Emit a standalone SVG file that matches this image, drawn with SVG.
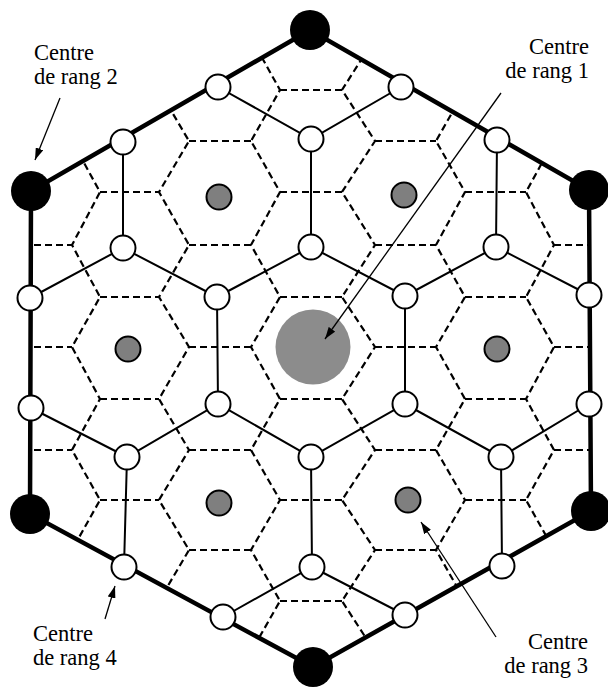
<svg xmlns="http://www.w3.org/2000/svg" width="608" height="688" viewBox="0 0 608 688">
<style>
.dash{fill:none;stroke:#000;stroke-width:2.2;stroke-dasharray:7 4}
.thin{fill:none;stroke:#000;stroke-width:2}
.thick{fill:none;stroke:#000;stroke-width:4.5;stroke-linejoin:miter}
.arrow{fill:none;stroke:#000;stroke-width:1.3;marker-end:url(#ah)}
.w{fill:#fff;stroke:#000;stroke-width:2}
.g{fill:#7f7f7f;stroke:#000;stroke-width:2}
.b{fill:#000}
.big{fill:#8c8c8c}
text{font-family:"Liberation Serif","Times New Roman",serif;font-size:22.5px;fill:#000}
</style>
<defs>
<clipPath id="hexclip"><polygon points="310,30 31,191 30,514 313,667 591,511 589,190"/></clipPath>
<marker id="ah" viewBox="0 0 12 8" markerWidth="12" markerHeight="8" refX="12" refY="4" orient="auto" markerUnits="userSpaceOnUse"><path d="M0,0 L12,4 L0,8 z" fill="#000"/></marker>
</defs>
<rect width="608" height="688" fill="#fff"/>
<g id="connectors">
<g id="dashed-network" clip-path="url(#hexclip)">
<path class="dash" d="M72,38 L100,90 L72,141 L100,192 L72,245 L100,297 L72,347 L100,399 L72,450 L100,500 L72,550 L100,601 L72,652
M189,38 L159,90 L189,141 L159,192 L189,245 L159,297 L189,347 L159,399 L189,450 L159,500 L189,550 L159,601 L189,652
M251,38 L280,90 L251,141 L280,192 L251,245 L280,297 L251,347 L280,399 L251,450 L280,500 L251,550 L280,601 L251,652
M375,38 L342,90 L375,141 L342,192 L375,245 L342,297 L375,347 L342,399 L375,450 L342,500 L375,550 L342,601 L375,652
M436,38 L465,90 L436,141 L465,192 L436,245 L465,297 L436,347 L465,399 L436,450 L465,500 L436,550 L465,601 L436,652
M554,38 L526,90 L554,141 L526,192 L554,245 L526,297 L554,347 L526,399 L554,450 L526,500 L554,550 L526,601 L554,652"/>
<path class="dash" d="M100,90 H159 M280,90 H342 M465,90 H526
M-10,141 H72 M189,141 H251 M375,141 H436 M554,141 H630
M100,192 H159 M280,192 H342 M465,192 H526
M-10,245 H72 M189,245 H251 M375,245 H436 M554,245 H630
M100,297 H159 M280,297 H342 M465,297 H526
M-10,347 H72 M189,347 H251 M375,347 H436 M554,347 H630
M100,399 H159 M280,399 H342 M465,399 H526
M-10,450 H72 M189,450 H251 M375,450 H436 M554,450 H630
M100,500 H159 M280,500 H342 M465,500 H526
M-10,550 H72 M189,550 H251 M375,550 H436 M554,550 H630
M100,601 H159 M280,601 H342 M465,601 H526"/>
</g>
<g id="solid-network">
<path class="thin" d="M218,87 L311,139 L401,87 M311,139 L311,247
M123,142 L123,248 M497,140 L496,247
M30,298 L123,248 L217,297 L311,247 L405,296 L496,247 L589,295
M217,297 L218,404 M405,296 L405,404
M31,408 L127,457 L218,404 L311,457 L405,404 L501,457 L589,404
M127,457 L124,567 M311,457 L312,567 M501,457 L502,566
M223,617 L312,567 L405,615"/>
</g>
<polygon id="boundary" class="thick" points="310,30 31,191 30,514 313,667 591,511 589,190"/>
</g>
<g id="center-rang1"><circle class="big" cx="313" cy="347" r="37.5"/></g>
<g id="centres-rang2">
<circle id="b1" class="b" cx="310" cy="30" r="20"/>
<circle id="b2" class="b" cx="31" cy="191" r="20"/>
<circle id="b3" class="b" cx="589" cy="190" r="20"/>
<circle id="b4" class="b" cx="30" cy="514" r="20"/>
<circle id="b5" class="b" cx="591" cy="511" r="20"/>
<circle id="b6" class="b" cx="313" cy="667" r="20"/>
</g>
<g id="centres-rang3">
<circle id="g1" class="g" cx="219" cy="197" r="12.5"/>
<circle id="g2" class="g" cx="404" cy="195" r="12.5"/>
<circle id="g3" class="g" cx="128" cy="349" r="12.5"/>
<circle id="g4" class="g" cx="497" cy="349" r="12.5"/>
<circle id="g5" class="g" cx="219" cy="503" r="12.5"/>
<circle id="g6" class="g" cx="408" cy="500" r="12.5"/>
</g>
<g id="centres-rang4">
<circle id="w1" class="w" cx="218" cy="87" r="12.5"/>
<circle id="w2" class="w" cx="401" cy="87" r="12.5"/>
<circle id="w3" class="w" cx="311" cy="139" r="12.5"/>
<circle id="w4" class="w" cx="123" cy="142" r="12.5"/>
<circle id="w5" class="w" cx="497" cy="140" r="12.5"/>
<circle id="w6" class="w" cx="123" cy="248" r="12.5"/>
<circle id="w7" class="w" cx="311" cy="247" r="12.5"/>
<circle id="w8" class="w" cx="496" cy="247" r="12.5"/>
<circle id="w9" class="w" cx="30" cy="298" r="12.5"/>
<circle id="w10" class="w" cx="217" cy="297" r="12.5"/>
<circle id="w11" class="w" cx="405" cy="296" r="12.5"/>
<circle id="w12" class="w" cx="589" cy="295" r="12.5"/>
<circle id="w13" class="w" cx="31" cy="408" r="12.5"/>
<circle id="w14" class="w" cx="218" cy="404" r="12.5"/>
<circle id="w15" class="w" cx="405" cy="404" r="12.5"/>
<circle id="w16" class="w" cx="589" cy="404" r="12.5"/>
<circle id="w17" class="w" cx="127" cy="457" r="12.5"/>
<circle id="w18" class="w" cx="311" cy="457" r="12.5"/>
<circle id="w19" class="w" cx="501" cy="457" r="12.5"/>
<circle id="w20" class="w" cx="124" cy="567" r="12.5"/>
<circle id="w21" class="w" cx="312" cy="567" r="12.5"/>
<circle id="w22" class="w" cx="502" cy="566" r="12.5"/>
<circle id="w23" class="w" cx="223" cy="617" r="12.5"/>
<circle id="w24" class="w" cx="405" cy="615" r="12.5"/>
</g>
<g id="arrows">
<line class="arrow" x1="60" y1="98" x2="35" y2="160"/>
<line class="arrow" x1="501" y1="93" x2="325" y2="339"/>
<line class="arrow" x1="105" y1="619" x2="115" y2="586"/>
<line class="arrow" x1="496" y1="637" x2="421" y2="522"/>
</g>
<g id="labels">
<text x="34" y="60">Centre</text>
<text x="34" y="84">de rang 2</text>
<text x="589" y="54" text-anchor="end">Centre</text>
<text x="589" y="78" text-anchor="end">de rang 1</text>
<text x="33" y="641">Centre</text>
<text x="33" y="665">de rang 4</text>
<text x="588" y="649" text-anchor="end">Centre</text>
<text x="588" y="673" text-anchor="end">de rang 3</text>
</g>
</svg>
